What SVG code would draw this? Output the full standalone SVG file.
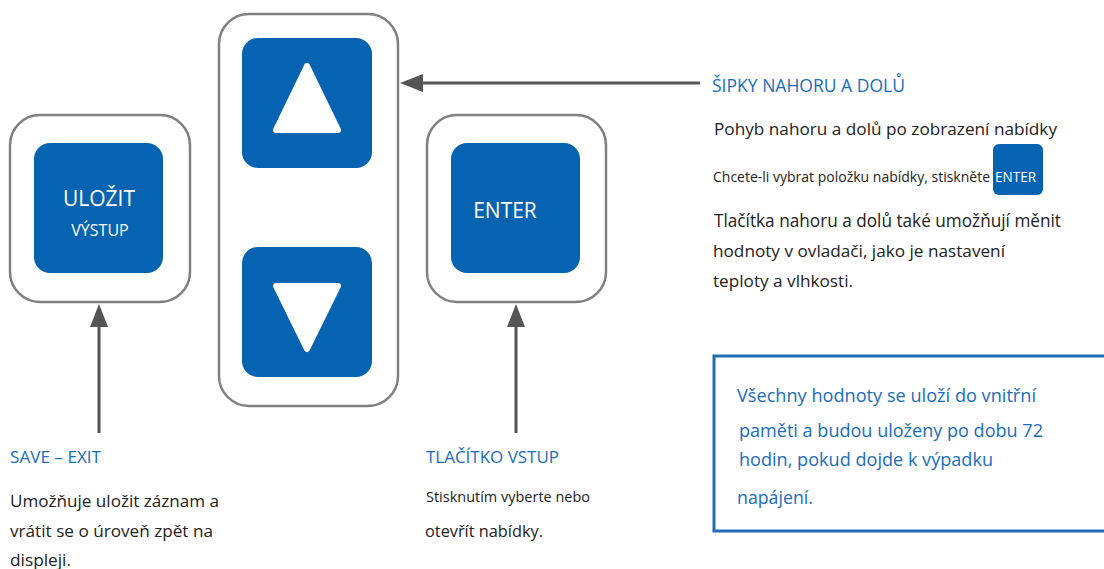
<svg xmlns="http://www.w3.org/2000/svg" width="1104" height="569" viewBox="0 0 1104 569">
<style>
.outer{fill:#fff;stroke:#808080;stroke-width:2.5}
.btn{fill:#0563b1}
.tri{fill:#fff;stroke:#fff;stroke-width:6;stroke-linejoin:round}
.conn{stroke:#555;stroke-width:3;fill:none}
.head{fill:#555}
.t{font-family:"Open Sans","Noto Sans","Liberation Sans",sans-serif}
.dark{fill:#222}
.blue{fill:#1a6dbd}
.w{fill:#fff}
</style>
<rect width="1104" height="569" fill="#fff"/>

<g id="save-button">
<rect class="outer" x="10" y="115" width="180" height="187" rx="30"/>
<rect class="btn" x="34" y="143" width="129" height="130" rx="16"/>
<text class="t w" x="99" y="206" font-size="21" text-anchor="middle">ULOŽIT</text>
<text class="t w" x="100" y="236" font-size="16" text-anchor="middle">VÝSTUP</text>
</g>

<g id="updown-buttons">
<rect class="outer" x="219" y="14" width="179" height="392" rx="30"/>
<rect class="btn" x="242" y="38" width="130" height="130" rx="16"/>
<polygon class="tri" points="307,66 276,130 338,130"/>
<rect class="btn" x="242" y="247" width="130" height="130" rx="16"/>
<polygon class="tri" points="276,286 338,286 307,349"/>
</g>

<g id="enter-button">
<rect class="outer" x="427" y="115" width="179" height="187" rx="30"/>
<rect class="btn" x="451" y="143" width="129" height="130" rx="16"/>
<text class="t w" x="505" y="218" font-size="21" text-anchor="middle">ENTER</text>
</g>

<g id="connectors">
<line class="conn" x1="700" y1="83" x2="422" y2="83"/>
<polygon class="head" points="400,83 423,74 423,92"/>
<line class="conn" x1="99" y1="433" x2="99" y2="326"/>
<polygon class="head" points="99,304 90,327 108,327"/>
<line class="conn" x1="516" y1="433" x2="516" y2="326"/>
<polygon class="head" points="516,304 507,327 525,327"/>
</g>

<g id="arrows-label">
<text class="t blue" x="712" y="92" font-size="17.5" textLength="193" lengthAdjust="spacingAndGlyphs">ŠIPKY NAHORU A DOLŮ</text>
<text class="t dark" x="714" y="135" font-size="17" textLength="343" lengthAdjust="spacingAndGlyphs">Pohyb nahoru a dolů po zobrazení nabídky</text>
<text class="t dark" x="713" y="182" font-size="14" textLength="277" lengthAdjust="spacingAndGlyphs">Chcete-li vybrat položku nabídky, stiskněte</text>
<rect class="btn" x="993" y="144" width="50" height="51" rx="6"/>
<text class="t w" x="995" y="182" font-size="14" textLength="41" lengthAdjust="spacingAndGlyphs">ENTER</text>
<text class="t dark" x="714" y="227" font-size="18" textLength="347" lengthAdjust="spacingAndGlyphs">Tlačítka nahoru a dolů také umožňují měnit</text>
<text class="t dark" x="713" y="257" font-size="17" textLength="292" lengthAdjust="spacingAndGlyphs">hodnoty v ovladači, jako je nastavení</text>
<text class="t dark" x="713" y="287" font-size="17" textLength="140" lengthAdjust="spacingAndGlyphs">teploty a vlhkosti.</text>
</g>

<g id="save-label">
<text class="t blue" x="10" y="463" font-size="17" textLength="91" lengthAdjust="spacingAndGlyphs">SAVE – EXIT</text>
<text class="t dark" x="10" y="507" font-size="17" textLength="209" lengthAdjust="spacingAndGlyphs">Umožňuje uložit záznam a</text>
<text class="t dark" x="10" y="537" font-size="17" textLength="203" lengthAdjust="spacingAndGlyphs">vrátit se o úroveň zpět na</text>
<text class="t dark" x="10" y="566" font-size="17" textLength="61" lengthAdjust="spacingAndGlyphs">displeji.</text>
</g>

<g id="enter-label">
<text class="t blue" x="426" y="463" font-size="17" textLength="133" lengthAdjust="spacingAndGlyphs">TLAČÍTKO VSTUP</text>
<text class="t dark" x="426" y="502" font-size="14.5" textLength="164" lengthAdjust="spacingAndGlyphs">Stisknutím vyberte nebo</text>
<text class="t dark" x="425" y="537" font-size="16.5" textLength="118" lengthAdjust="spacingAndGlyphs">otevřít nabídky.</text>
</g>

<g id="memory-note">
<rect x="714" y="356" width="400" height="175" fill="#fff" stroke="#1f6db3" stroke-width="3"/>
<text class="t blue" x="737" y="402" font-size="18" textLength="299" lengthAdjust="spacingAndGlyphs">Všechny hodnoty se uloží do vnitřní</text>
<text class="t blue" x="739" y="437" font-size="18" textLength="304" lengthAdjust="spacingAndGlyphs">paměti a budou uloženy po dobu 72</text>
<text class="t blue" x="739" y="466" font-size="18" textLength="254" lengthAdjust="spacingAndGlyphs">hodin, pokud dojde k výpadku</text>
<text class="t blue" x="737" y="504" font-size="18" textLength="76" lengthAdjust="spacingAndGlyphs">napájení.</text>
</g>
</svg>
